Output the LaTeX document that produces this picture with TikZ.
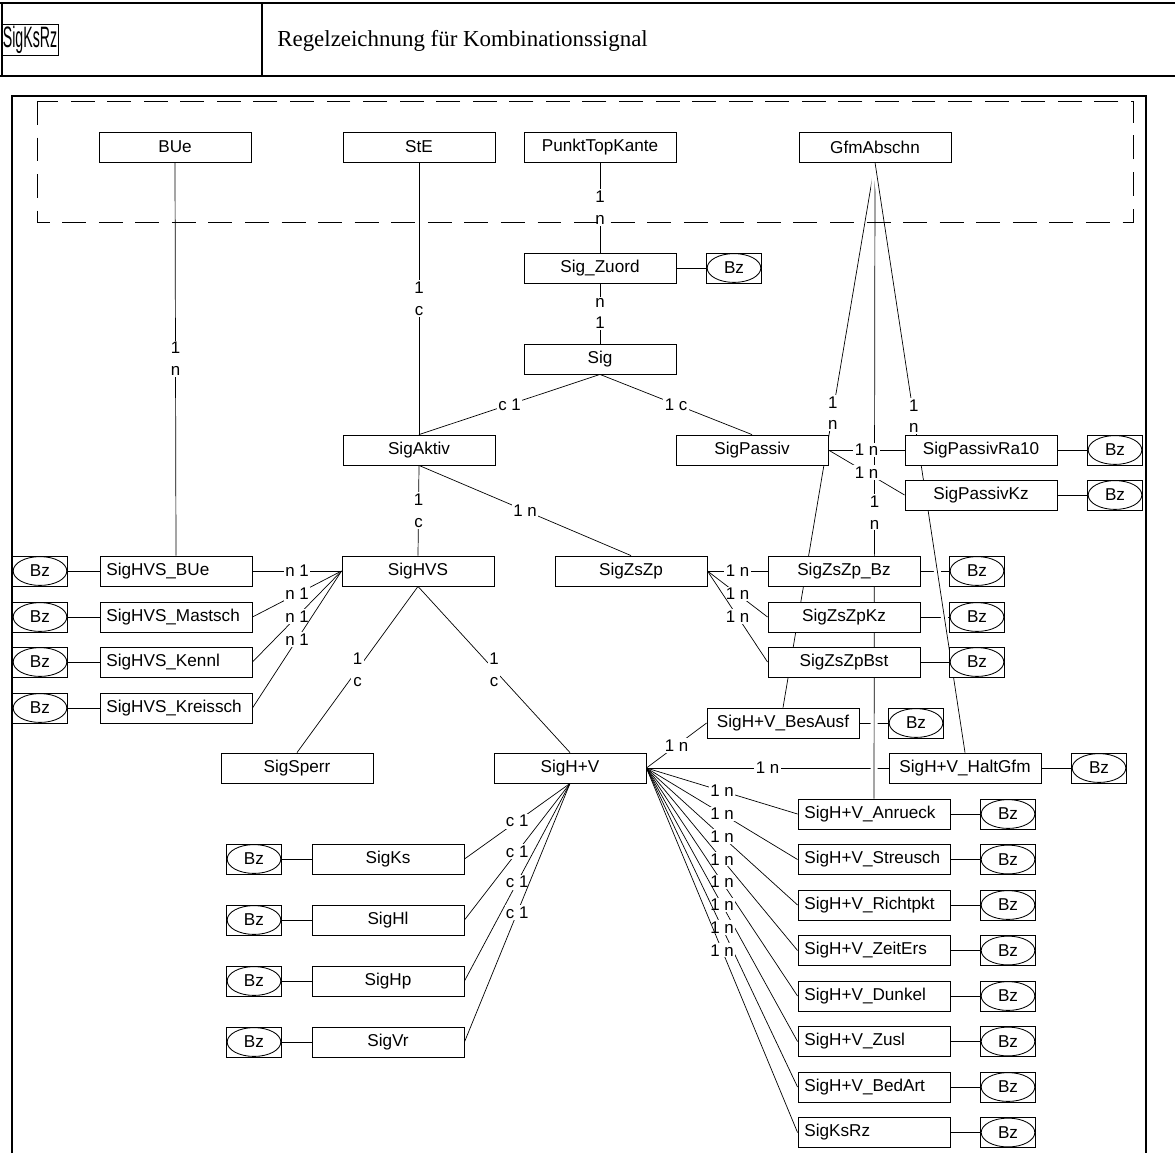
\documentclass[tikz,border=0pt]{standalone}
\usepackage{fontspec}
\setmainfont{Liberation Serif}
\setsansfont{Liberation Sans}
\usepackage{tikz}
\usetikzlibrary{positioning, backgrounds}

\begin{document}
\begin{tikzpicture}[x=0.025cm, y=-0.025cm,
    ent/.style={draw, fill=white, rectangle, text centered, minimum height=0.75cm, minimum width=3.8cm, inner sep=0pt, line width=0.6pt, font=\sffamily\fontsize{12.2}{14}\selectfont},
    entl/.style={ent, text width=3.48cm, align=left},
    bz/.style={draw, fill=white, rectangle, minimum height=0.75cm, minimum width=1.375cm, inner sep=0pt, line width=0.6pt, font=\sffamily\fontsize{12.2}{14}\selectfont,
        path picture={\draw[line width=0.6pt] (path picture bounding box.center) ellipse [x radius=0.67cm, y radius=0.36cm];}},
    card/.style={fill=white, inner sep=1pt, align=center, font=\sffamily\fontsize{12}{15.5}\selectfont},
    gfmline/.style={preaction={draw=white, line width=5pt}}]

    \useasboundingbox (0,0) rectangle (1175,1153);

    % Header
    \draw[line width=1pt] (0,3) -- (1175,3);
    \draw[line width=1.6pt] (0,76) -- (1175,76);
    \draw[line width=1.6pt] (2,3) -- (2,76);
    \draw[line width=0.8pt] (262,3) -- (262,76);
    \node (hdrKey) [draw, line width=0.8pt, inner sep=1pt, font=\sffamily\fontsize{21}{21}\selectfont] at (30,40) {\scalebox{0.48}[1]{SigKsRz}};
    \node (hdrTitle) [anchor=west, inner sep=0pt, font=\rmfamily\fontsize{16.3}{18}\selectfont] at (277,41) {Regelzeichnung für Kombinationssignal};

    % Frame and external group
    \draw[line width=1.6pt] (12,1153) -- (12,96) -- (1146,96) -- (1146,1153);
    \draw[line width=0.7pt, dash pattern=on 17pt off 9pt] (37,101) rectangle (1133,222);

    % External objects
    \node (bue) [ent] at (175,147) {BUe};
    \node (ste) [ent] at (419,147) {StE};
    \node (punktTop) [ent] at (600,147) {PunktTopKante};
    \node (gfm) [ent] at (875,147) {GfmAbschn};

    % Signal core
    \node (sigZuord) [ent] at (600,268) {Sig\_Zuord};
    \node (bzZuord) [bz] at (734,268) {Bz};
    \node (sig) [ent] at (600,359) {Sig};
    \node (sigAktiv) [ent] at (419,450) {SigAktiv};
    \node (sigPassiv) [ent] at (752,450) {SigPassiv};
    \node (passivRa) [ent] at (981,450) {SigPassivRa10};
    \node (bzPassivRa) [bz] at (1115,450) {Bz};
    \node (passivKz) [ent] at (981,495) {SigPassivKz};
    \node (bzPassivKz) [bz] at (1115,495) {Bz};

    % HVS branch
    \node (sigHVS) [ent] at (418,571) {SigHVS};
    \node (hvsBue) [entl] at (176,571) {SigHVS\_BUe};
    \node (bzHvsBue) [bz] at (40,571) {Bz};
    \node (hvsMast) [entl] at (176,617) {SigHVS\_Mastsch};
    \node (bzHvsMast) [bz] at (40,617) {Bz};
    \node (hvsKennl) [entl] at (176,662) {SigHVS\_Kennl};
    \node (bzHvsKennl) [bz] at (40,662) {Bz};
    \node (hvsKreis) [entl] at (176,708) {SigHVS\_Kreissch};
    \node (bzHvsKreis) [bz] at (40,708) {Bz};

    % ZsZp branch
    \node (sigZsZp) [ent] at (631,571) {SigZsZp};
    \node (zsBz) [ent] at (844,571) {SigZsZp\_Bz};
    \node (bzZsBz) [bz] at (977,571) {Bz};
    \node (zsKz) [ent] at (844,617) {SigZsZpKz};
    \node (bzZsKz) [bz] at (977,617) {Bz};
    \node (zsBst) [ent] at (844,662) {SigZsZpBst};
    \node (bzZsBst) [bz] at (977,662) {Bz};

    % H+V branch
    \node (sigSperr) [ent] at (297,768) {SigSperr};
    \node (sigHV) [ent] at (570,768) {SigH+V};
    \node (hvBesAusf) [ent] at (783,723) {SigH+V\_BesAusf};
    \node (bzBesAusf) [bz] at (916,723) {Bz};
    \node (hvHaltGfm) [ent] at (965,768) {SigH+V\_HaltGfm};
    \node (bzHaltGfm) [bz] at (1099,768) {Bz};

    \node (hvAnrueck) [entl] at (874,814) {SigH+V\_Anrueck};
    \node (bzAnrueck) [bz] at (1008,814) {Bz};
    \node (hvStreusch) [entl] at (874,859.5) {SigH+V\_Streusch};
    \node (bzStreusch) [bz] at (1008,859.5) {Bz};
    \node (hvRichtpkt) [entl] at (874,905) {SigH+V\_Richtpkt};
    \node (bzRichtpkt) [bz] at (1008,905) {Bz};
    \node (hvZeitErs) [entl] at (874,950.5) {SigH+V\_ZeitErs};
    \node (bzZeitErs) [bz] at (1008,950.5) {Bz};
    \node (hvDunkel) [entl] at (874,996) {SigH+V\_Dunkel};
    \node (bzDunkel) [bz] at (1008,996) {Bz};
    \node (hvZusl) [entl] at (874,1041.5) {SigH+V\_Zusl};
    \node (bzZusl) [bz] at (1008,1041.5) {Bz};
    \node (hvBedArt) [entl] at (874,1087) {SigH+V\_BedArt};
    \node (bzBedArt) [bz] at (1008,1087) {Bz};
    \node (sigKsRz) [entl] at (874,1132.5) {SigKsRz};
    \node (bzKsRz) [bz] at (1008,1132.5) {Bz};

    \node (sigKs) [ent] at (388,859) {SigKs};
    \node (bzKs) [bz] at (254,859) {Bz};
    \node (sigHl) [ent] at (388,920) {SigHl};
    \node (bzHl) [bz] at (254,920) {Bz};
    \node (sigHp) [ent] at (388,981) {SigHp};
    \node (bzHp) [bz] at (254,981) {Bz};
    \node (sigVr) [ent] at (388,1042) {SigVr};
    \node (bzVr) [bz] at (254,1042) {Bz};

    \begin{pgfonlayer}{background}
    \begin{scope}[line width=0.5pt]
    % lines crossed by the GfmAbschn connections
    \draw (zsBz.east) -- (bzZsBz.west);
    \draw (zsKz.east) -- (bzZsKz.west);
    \draw (hvBesAusf.east) -- (bzBesAusf.west);
    \draw (sigHV.east) -- node[card] {1 n} (hvHaltGfm.west);

    % GfmAbschn connections
    \draw[gfmline] (gfm.south) -- node[card, pos=0.46] {1\\n} (hvBesAusf.north);
    \draw[gfmline] (gfm.south) -- node[card, pos=0.55] {1\\n} (hvAnrueck.north);
    \draw[gfmline] (gfm.south) -- node[card, pos=0.43] {1\\n} (hvHaltGfm.north);

    % upper part
    \draw (bue.south) -- node[card] {1\\n} (hvsBue.north);
    \draw (ste.south) -- node[card] {1\\c} (sigAktiv.north);
    \draw (punktTop.south) -- node[card] {1\\n} (sigZuord.north);
    \draw (sigZuord.south) -- node[card] {n\\1} (sig.north);
    \draw (sigZuord.east) -- (bzZuord.west);
    \draw (sig.south) -- node[card] {c 1} (sigAktiv.north);
    \draw (sig.south) -- node[card] {1 c} (sigPassiv.north);
    \draw (sigPassiv.east) -- node[card] {1 n} (passivRa.west);
    \draw (sigPassiv.east) -- node[card] {1 n} (passivKz.west);
    \draw (passivRa.east) -- (bzPassivRa.west);
    \draw (passivKz.east) -- (bzPassivKz.west);

    % SigAktiv
    \draw (sigAktiv.south) -- node[card] {1\\c} (sigHVS.north);
    \draw (sigAktiv.south) -- node[card] {1 n} (sigZsZp.north);

    % SigHVS
    \draw (hvsBue.east) -- node[card] {n 1} (sigHVS.west);
    \draw (hvsMast.east) -- node[card] {n 1} (sigHVS.west);
    \draw (hvsKennl.east) -- node[card] {n 1} (sigHVS.west);
    \draw (hvsKreis.east) -- node[card] {n 1} (sigHVS.west);
    \draw (bzHvsBue.east) -- (hvsBue.west);
    \draw (bzHvsMast.east) -- (hvsMast.west);
    \draw (bzHvsKennl.east) -- (hvsKennl.west);
    \draw (bzHvsKreis.east) -- (hvsKreis.west);
    \draw (sigHVS.south) -- node[card] {1\\c} (sigSperr.north);
    \draw (sigHVS.south) -- node[card] {1\\c} (sigHV.north);

    % SigZsZp
    \draw (sigZsZp.east) -- node[card] {1 n} (zsBz.west);
    \draw (sigZsZp.east) -- node[card] {1 n} (zsKz.west);
    \draw (sigZsZp.east) -- node[card] {1 n} (zsBst.west);
    \draw (zsBst.east) -- (bzZsBst.west);

    % SigH+V
    \draw (sigHV.east) -- node[card] {1 n} (hvBesAusf.west);
    \draw (hvHaltGfm.east) -- (bzHaltGfm.west);
    \draw (sigHV.east) -- node[card] {1 n} (hvAnrueck.west);
    \draw (sigHV.east) -- node[card] {1 n} (hvStreusch.west);
    \draw (sigHV.east) -- node[card] {1 n} (hvRichtpkt.west);
    \draw (sigHV.east) -- node[card] {1 n} (hvZeitErs.west);
    \draw (sigHV.east) -- node[card] {1 n} (hvDunkel.west);
    \draw (sigHV.east) -- node[card] {1 n} (hvZusl.west);
    \draw (sigHV.east) -- node[card] {1 n} (hvBedArt.west);
    \draw (sigHV.east) -- node[card] {1 n} (sigKsRz.west);
    \draw (hvAnrueck.east) -- (bzAnrueck.west);
    \draw (hvStreusch.east) -- (bzStreusch.west);
    \draw (hvRichtpkt.east) -- (bzRichtpkt.west);
    \draw (hvZeitErs.east) -- (bzZeitErs.west);
    \draw (hvDunkel.east) -- (bzDunkel.west);
    \draw (hvZusl.east) -- (bzZusl.west);
    \draw (hvBedArt.east) -- (bzBedArt.west);
    \draw (sigKsRz.east) -- (bzKsRz.west);

    \draw (sigHV.south) -- node[card] {c 1} (sigKs.east);
    \draw (sigHV.south) -- node[card] {c 1} (sigHl.east);
    \draw (sigHV.south) -- node[card] {c 1} (sigHp.east);
    \draw (sigHV.south) -- node[card] {c 1} (sigVr.east);
    \draw (bzKs.east) -- (sigKs.west);
    \draw (bzHl.east) -- (sigHl.west);
    \draw (bzHp.east) -- (sigHp.west);
    \draw (bzVr.east) -- (sigVr.west);
    \end{scope}
    \end{pgfonlayer}

\end{tikzpicture}
\end{document}
